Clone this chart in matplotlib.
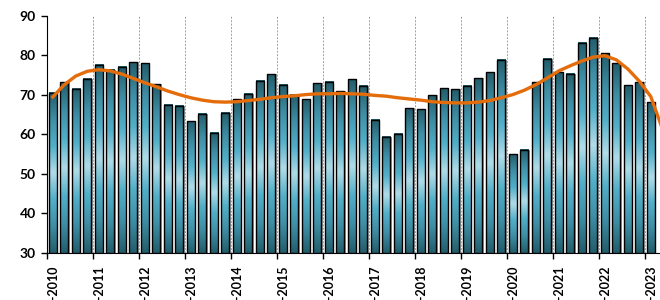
import numpy as np
import matplotlib
matplotlib.use('Agg')
import matplotlib.pyplot as plt
from matplotlib.colors import LinearSegmentedColormap

# === DATA === #
years = list(range(2010, 2024))
values = [70.6, 73.2, 71.6, 74.1,
          77.6, 76.4, 77.2, 78.3,
          78.0, 72.7, 67.5, 67.3,
          63.3, 65.2, 60.5, 65.5,
          68.9, 70.3, 73.6, 75.3,
          72.6, 70.1, 68.9, 73.0,
          73.3, 70.9, 74.0, 72.3,
          63.7, 59.4, 60.2, 66.6,
          66.4, 69.9, 71.7, 71.4,
          72.3, 74.2, 75.8, 78.9,
          55.0, 56.2, 73.2, 79.2,
          75.7, 75.4, 83.2, 84.5,
          80.6, 78.0, 72.5, 73.2,
          68.2]
# trend line (one point per quarter, last one past the edge)
trend = [69.5, 72.6, 74.8, 76.0,
         76.4, 76.1, 75.3, 74.2,
         73.1, 72.1, 71.0, 70.1,
         69.3, 68.7, 68.3, 68.2,
         68.3, 68.6, 68.9, 69.3,
         69.6, 69.8, 70.1, 70.3,
         70.3, 70.4, 70.3, 70.2,
         69.9, 69.7, 69.3, 69.0,
         68.7, 68.3, 68.1, 68.0,
         68.0, 68.2, 68.6, 69.3,
         70.1, 71.2, 72.6, 74.3,
         76.1, 77.4, 78.6, 79.6,
         79.95, 78.9, 76.6, 73.5,
         69.6, 61.5]

# === PLOTTING === #
plt.rcParams['font.family'] = ['Lato', 'DejaVu Sans']

fig = plt.figure(figsize=(6.6, 3.0), dpi=100)
ax = fig.add_axes([47 / 660, 47 / 300, 613 / 660, 237 / 300])

ymin = 30
x = np.arange(len(values))
width = 0.72

cmap = LinearSegmentedColormap.from_list(
    'bar', ['#245e6c', '#3f8fa6', '#52afc8', '#b2dce8', '#52afc8', '#3f8fa6', '#245e6c'])
grad = np.linspace(0, 1, 64).reshape(-1, 1)

# shadow, gradient fill, outline
ax.bar(x + 0.12, np.array(values) - ymin, width, bottom=ymin, color='#9a9a9a', zorder=2)
for xi, v in zip(x, values):
    ax.imshow(grad, cmap=cmap, aspect='auto', extent=[xi - width / 2, xi + width / 2, ymin, v],
              zorder=3, interpolation='bilinear')
ax.bar(x, np.array(values) - ymin, width, bottom=ymin, facecolor='none', edgecolor='black',
       linewidth=1.0, zorder=4)

ax.plot(np.arange(len(trend)), trend, color='#E46C0A', linewidth=2.4, zorder=5)

ax.set_xlim(-0.5, 52.8)
ax.set_ylim(30, 90)
ax.set_yticks(range(30, 91, 10))

# year boundaries: ticks + dashed grid; labels on first quarter
ax.set_xticks(np.arange(len(years)) * 4 - 0.5)
ax.set_xticklabels([])
ax.set_xticks(np.arange(len(years)) * 4, minor=True)
ax.set_xticklabels(['I-%d' % y for y in years], minor=True, rotation=90,
                   fontsize=9, fontweight='bold')
ax.tick_params(axis='x', which='minor', length=0, pad=9)
ax.tick_params(axis='x', which='major', length=4, width=1, direction='out')
ax.tick_params(axis='y', length=4, width=1, labelsize=10, pad=4)
for lab in ax.get_yticklabels():
    lab.set_fontweight('bold')

ax.grid(True, axis='x', which='major', color='#a0a0a0', linestyle=(0, (2, 1.5)), linewidth=0.7)
ax.set_axisbelow(True)

ax.spines['top'].set_visible(False)
ax.spines['right'].set_visible(False)

plt.savefig('out.png', dpi=100)
